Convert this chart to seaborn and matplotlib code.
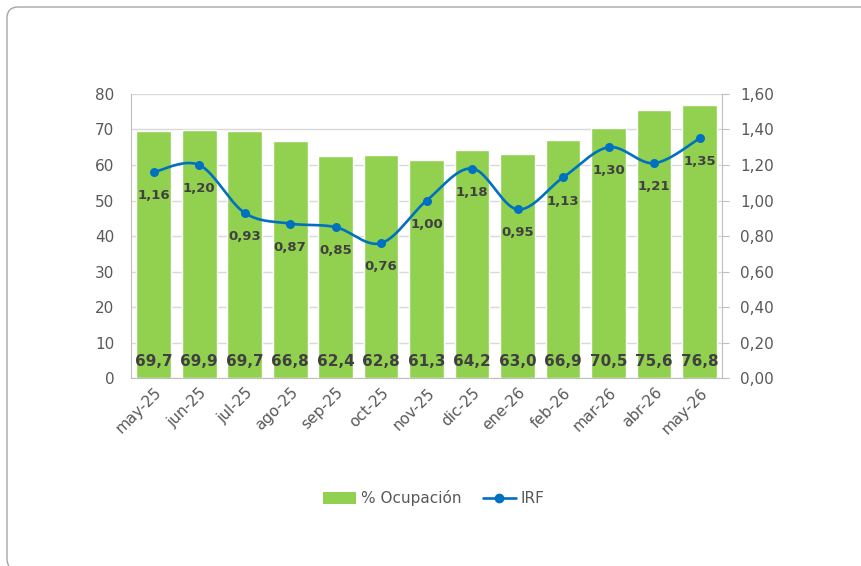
import matplotlib
matplotlib.use("Agg")
import matplotlib.pyplot as plt
import seaborn as sns
import numpy as np
import pandas as pd
from matplotlib.patches import FancyBboxPatch
from matplotlib.lines import Line2D
from matplotlib.patches import Patch
from matplotlib.ticker import FuncFormatter, FixedLocator

# --- data ---
months = ["may-25", "jun-25", "jul-25", "ago-25", "sep-25", "oct-25", "nov-25",
          "dic-25", "ene-26", "feb-26", "mar-26", "abr-26", "may-26"]
ocupacion = [69.7, 69.9, 69.7, 66.8, 62.4, 62.8, 61.3, 64.2, 63.0, 66.9, 70.5, 75.6, 76.8]
irf = [1.16, 1.20, 0.93, 0.87, 0.85, 0.76, 1.00, 1.18, 0.95, 1.13, 1.30, 1.21, 1.35]

GREEN = "#92D050"
BLUE = "#0070C0"
LABEL = "#404040"
TICK = "#595959"


def catmull_rom(x, y, steps=30):
    """Smooth curve through the points (like Excel's smoothed line)."""
    pts = np.column_stack([x, y]).astype(float)
    pts = np.vstack([pts[0], pts, pts[-1]])
    out = []
    t = np.linspace(0, 1, steps, endpoint=False)[:, None]
    for i in range(1, len(pts) - 2):
        p0, p1, p2, p3 = pts[i - 1], pts[i], pts[i + 1], pts[i + 2]
        seg = 0.5 * ((2 * p1) + (-p0 + p2) * t + (2 * p0 - 5 * p1 + 4 * p2 - p3) * t ** 2
                     + (-p0 + 3 * p1 - 3 * p2 + p3) * t ** 3)
        out.append(seg)
    out.append(pts[-2][None, :])
    out = np.vstack(out)
    return out[:, 0], out[:, 1]


sns.set_style("white")
plt.rcParams["font.family"] = ["DejaVu Sans"]

df = pd.DataFrame({"mes": months, "ocupacion": ocupacion, "irf": irf})

fig = plt.figure(figsize=(8.62, 5.66), dpi=100)
ax = fig.add_axes([0.152, 0.332, 0.686, 0.502])

# rounded frame around the chart area (drawn in pixels so the corner stays round)
frame = FancyBboxPatch((7, -4), 900, 563,
                       boxstyle="round,pad=0,rounding_size=11",
                       transform=None, fill=False,
                       edgecolor="#A6A6A6", linewidth=1.0, zorder=0)
fig.patches.append(frame)

sns.barplot(data=df, x="mes", y="ocupacion", order=months, color=GREEN,
            width=0.76, saturation=1, ax=ax, zorder=2)
ax.set_xlim(-0.5, len(months) - 0.5)
ax.set_ylim(0, 80)
ax.set_yticks(range(0, 81, 10))
ax.set_xlabel("")
ax.set_ylabel("")
ax.grid(axis="y", color="#D9D9D9", linewidth=1, zorder=0)
ax.set_axisbelow(True)

for s in ["top", "right"]:
    ax.spines[s].set_visible(False)
ax.spines["left"].set_color("#BFBFBF")
ax.spines["bottom"].set_color("#BFBFBF")

ax.tick_params(axis="y", length=0, labelsize=11, labelcolor=TICK, pad=12)
ax.set_xticks(range(len(months)))
ax.set_xticklabels(months, rotation=45, ha="right", rotation_mode="anchor",
                   fontsize=11, color=TICK)
ax.tick_params(axis="x", which="major", length=0, pad=5)
ax.xaxis.set_minor_locator(FixedLocator(np.arange(-0.5, len(months), 1.0)))
ax.tick_params(axis="x", which="minor", length=5, color="#BFBFBF")

for i, v in enumerate(ocupacion):
    ax.annotate(f"{v:.1f}".replace(".", ","), (i, 0), xytext=(0, 12.3),
                textcoords="offset points", ha="center", va="center",
                fontsize=11, fontweight="bold", color=LABEL, zorder=5)

# secondary axis: IRF
ax2 = ax.twinx()
xs, ys = catmull_rom(np.arange(len(irf)), irf)
sns.lineplot(x=xs, y=ys, ax=ax2, color=BLUE, linewidth=1.9, sort=False,
             estimator=None, zorder=4)
sns.scatterplot(x=np.arange(len(irf)), y=irf, ax=ax2, color=BLUE, s=42,
                edgecolor=BLUE, linewidth=0, zorder=5)
ax2.set_ylim(0, 1.6)
ax2.set_yticks(np.arange(0, 1.61, 0.2))
ax2.yaxis.set_major_formatter(FuncFormatter(lambda v, p: f"{v:.2f}".replace(".", ",")))
ax2.tick_params(axis="y", length=5, color="#BFBFBF", labelsize=11,
                labelcolor=TICK, pad=8)
for s in ["top", "left", "bottom"]:
    ax2.spines[s].set_visible(False)
ax2.spines["right"].set_color("#BFBFBF")
ax2.set_ylabel("")

for i, v in enumerate(irf):
    ax2.annotate(f"{v:.2f}".replace(".", ","), (i, v), xytext=(0, -17),
                 textcoords="offset points", ha="center", va="center",
                 fontsize=9.5, fontweight="bold", color=LABEL, zorder=6)

handles = [Patch(facecolor=GREEN, edgecolor="none"),
           Line2D([0], [0], color=BLUE, linewidth=1.9, marker="o", markersize=6)]
fig.legend(handles, ["% Ocupación", "IRF"], loc="center", bbox_to_anchor=(0.503, 0.12),
           ncol=2, frameon=False, handlelength=2.2, handleheight=0.8,
           columnspacing=1.4, handletextpad=0.3,
           prop={"size": 11}, labelcolor=TICK)

fig.savefig("out.png", dpi=100)
